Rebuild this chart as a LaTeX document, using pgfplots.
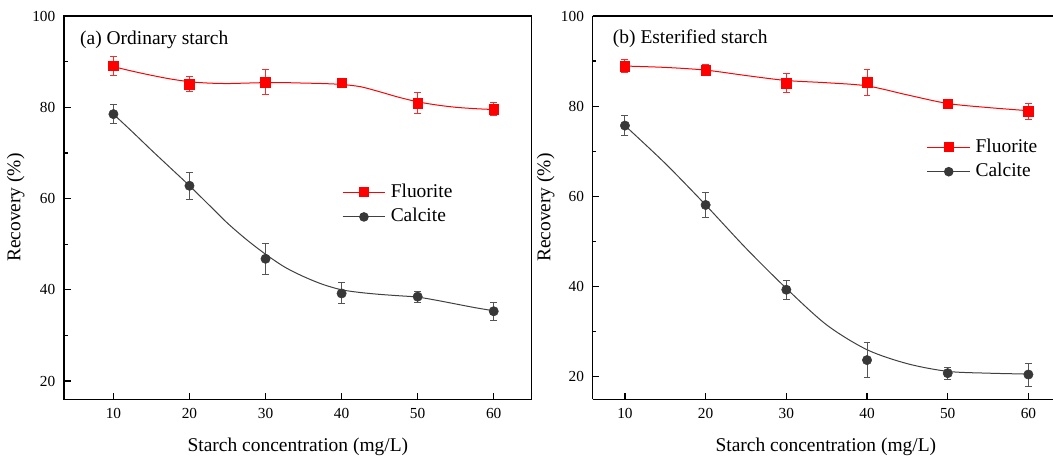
\documentclass[border=0pt]{standalone}
\usepackage{fontspec}
\setmainfont{Liberation Serif}
\usepackage{pgfplots}
\pgfplotsset{compat=1.18}
\definecolor{flu}{HTML}{FF0000}
\definecolor{flubar}{HTML}{F03030}
\definecolor{cal}{HTML}{383838}
\definecolor{calline}{HTML}{404040}
\definecolor{calbar}{HTML}{555555}

\pgfplotsset{
  recov/.style={
    scale only axis, height=287.5pt,
    axis line style={line width=1pt},
    tick style={line width=1pt, black},
    major tick length=5pt, minor tick length=2.8pt,
    tick align=inside,
    xtick={10,20,...,60}, ytick={20,40,...,100}, minor y tick num=1,
    xtick pos=bottom, ytick pos=left,
    tick label style={font=\fontsize{11.5}{13}\selectfont},
    xticklabel style={yshift=-3pt},
    yticklabel style={xshift=-3pt},
    label style={font=\fontsize{14.6}{17}\selectfont},
    xlabel={Starch concentration (mg/L)},
    ylabel={Recovery (\%)},
    /pgf/number format/assume math mode=true,
    legend cell align=left,
    legend style={draw=none, fill=none, inner sep=0pt, row sep=5pt, column sep=3.75pt,
      nodes={inner sep=0pt, text height=10.5pt, text depth=3pt,
             font=\fontsize{14.6}{17}\selectfont}},
    legend image code/.code={\draw[mark repeat=2,mark phase=2,#1]
      plot coordinates {(0pt,0pt) (16pt,0pt) (32pt,0pt)};},
  },
  flpts/.style={only marks, mark=square*, mark size=3.6pt, color=flu, forget plot,
    error bars/.cd, y dir=both, y explicit,
    error bar style={line width=0.75pt, flubar},
    error mark options={rotate=90, mark size=2.6pt, line width=0.75pt, flubar}},
  capts/.style={only marks, mark=*, mark size=3.5pt, color=cal, forget plot,
    error bars/.cd, y dir=both, y explicit,
    error bar style={line width=0.75pt, calbar},
    error mark options={rotate=90, mark size=2.6pt, line width=0.75pt, calbar}},
  flcurve/.style={flu, line width=0.75pt, smooth, no marks, forget plot},
  cacurve/.style={calline, line width=0.75pt, smooth, no marks, forget plot},
}

\begin{document}
\begin{tikzpicture}
  % (a) ordinary starch
  \begin{axis}[recov, at={(0pt,0pt)}, anchor=south west,
      width=350.8pt, xmin=3.5, xmax=65, ymin=16, ymax=100,
      xlabel style={at={(rel axis cs:0.5,0)}, anchor=base, yshift=-39.3pt},
      ylabel style={at={(axis description cs:-0.103,0.5)}, anchor=center},
      legend style={at={(rel axis cs:0.594,0.508)}, anchor=west}]
    \addlegendimage{flu, line width=0.75pt, mark=square*, mark size=3.3pt}
    \addlegendentry{Fluorite}
    \addlegendimage{calline, line width=0.75pt, mark=*, mark size=3.2pt, mark options={fill=cal, draw=cal}}
    \addlegendentry{Calcite}
    \addplot[flcurve] coordinates {(10,88.9) (12.5,87.9) (15,87.0) (17.5,86.2)
      (20,85.6) (22.5,85.3) (25,85.2) (27.5,85.3) (30,85.4) (32.5,85.4)
      (35,85.3) (37.5,85.2) (40,85.0) (42.5,84.5) (45,83.4) (47.5,82.2)
      (50,81.2) (52.5,80.5) (55,80.0) (57.5,79.7) (60,79.5)};
    \addplot[cacurve] coordinates {(10,78.5) (12.5,74.6) (15,70.6) (17.5,66.7)
      (20,62.8) (22.5,58.7) (25,54.6) (27.5,51.0) (30,47.8) (32.5,45.0)
      (35,42.9) (37.5,41.2) (40,40.0) (42.5,39.4) (45,39.0) (47.5,38.7)
      (50,38.4) (52.5,37.7) (55,36.9) (57.5,36.1) (60,35.4)};
    \addplot[flpts] table[x=x, y=y, y error=e] {
      x  y    e
      10 89.1 2.1
      20 85.1 1.6
      30 85.5 2.7
      40 85.4 0.5
      50 80.9 2.35
      60 79.6 1.45
    };
    \addplot[capts] table[x=x, y=y, y error=e] {
      x  y    e
      10 78.5 2.1
      20 62.8 2.95
      30 46.8 3.35
      40 39.2 2.3
      50 38.5 1.2
      60 35.3 1.95
    };
    \node[anchor=base west, inner sep=0pt, font=\fontsize{14.6}{17}\selectfont]
      at (rel axis cs:0.034,0.926) {(a) Ordinary starch};
  \end{axis}

  % (b) esterified starch
  \begin{axis}[recov, at={(396.5pt,0pt)}, anchor=south west,
      width=345.2pt, xmin=6, xmax=63.04, ymin=15, ymax=100,
      axis x line*=box, axis y line*=left,
      xlabel style={at={(axis cs:34.9,15)}, anchor=base, yshift=-39.3pt},
      ylabel style={at={(axis description cs:-0.102,0.5)}, anchor=center},
      legend style={at={(rel axis cs:0.7256,0.626)}, anchor=west}]
    \addlegendimage{flu, line width=0.75pt, mark=square*, mark size=3.3pt}
    \addlegendentry{Fluorite}
    \addlegendimage{calline, line width=0.75pt, mark=*, mark size=3.2pt, mark options={fill=cal, draw=cal}}
    \addlegendentry{Calcite}
    \addplot[flcurve] coordinates {(10,88.9) (15,88.6) (20,88.0) (25,86.8)
      (30,85.7) (35,85.2) (40,84.5) (45,82.5) (50,80.6) (55,79.7) (60,79.0)};
    \addplot[cacurve] coordinates {(10,75.7) (15,67.3) (20,58.1) (25,48.5)
      (30,39.6) (35,31.5) (40,26.0) (45,22.9) (50,21.2) (55,20.8) (60,20.6)};
    \addplot[flpts] table[x=x, y=y, y error=e] {
      x  y    e
      10 88.9 1.4
      20 88.0 1.3
      30 85.1 2.05
      40 85.3 2.85
      50 80.5 0.5
      60 78.9 1.8
    };
    \addplot[capts] table[x=x, y=y, y error=e] {
      x  y    e
      10 75.7 2.15
      20 58.1 2.8
      30 39.3 2.15
      40 23.7 3.8
      50 20.8 1.3
      60 20.5 2.55
    };
    \node[anchor=base west, inner sep=0pt, font=\fontsize{14.6}{17}\selectfont]
      at (rel axis cs:0.0435,0.927) {(b) Esterified starch};
  \end{axis}
  \pgfresetboundingbox
  \path[use as bounding box] (-48pt,-44.8pt) rectangle (741.75pt,299.5pt);
\end{tikzpicture}
\end{document}
